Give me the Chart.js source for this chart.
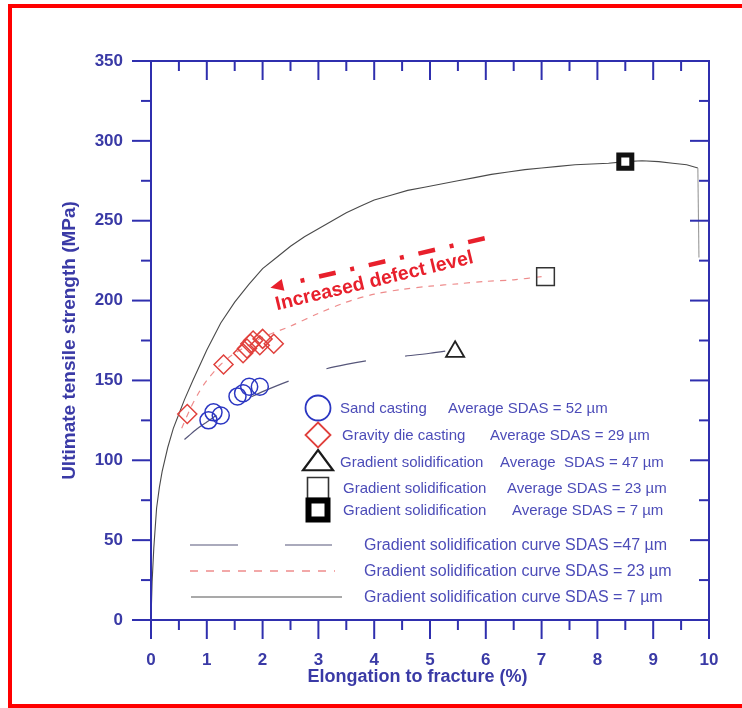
<!DOCTYPE html>
<html>
<head>
<meta charset="utf-8">
<title>UTS vs elongation</title>
<script src="https://cdn.jsdelivr.net/npm/chart.js@4.4.1/dist/chart.umd.min.js"></script>
<style>
  html, body { margin: 0; padding: 0; background: #fff; overflow: hidden; }
  #frame { position: absolute; left: 8px; top: 4px; width: 800px; height: 696px; border: 4px solid #ff0000; }
  #main-chart { position: absolute; left: 0; top: 0; }
</style>
</head>
<body>
<div id="frame"></div>
<canvas id="main-chart" width="742" height="708"></canvas>
<script>
// ── Data ─────────────────────────────────────────────────────
const X_TICKS = [0, 1, 2, 3, 4, 5, 6, 7, 8, 9, 10];
const X_MINOR = [0.5, 1.5, 2.5, 3.5, 4.5, 5.5, 6.5, 7.5, 8.5, 9.5];
const Y_TICKS = [0, 50, 100, 150, 200, 250, 300, 350];
const Y_MINOR = [25, 75, 125, 175, 225, 275, 325];

// gradient solidification curve, SDAS = 7 µm
const CURVE_7_X = [0, 0.02, 0.05, 0.1, 0.15, 0.2, 0.3, 0.4, 0.5, 0.6, 0.75, 1.0, 1.25, 1.5, 1.75, 2.0, 2.25, 2.5, 2.75, 3.0, 3.25, 3.5, 3.75, 4.0, 4.3, 4.6, 4.9, 5.2, 5.5, 5.8, 6.1, 6.4, 6.7, 7.0, 7.3, 7.6, 7.9, 8.2, 8.5, 8.8, 9.1, 9.35, 9.6, 9.8, 9.82];
const CURVE_7_Y = [0, 24, 45, 70, 83, 93, 108, 120, 129, 138, 150, 169, 186, 199, 210, 220, 227, 234, 240, 245, 250, 255, 259, 263, 266, 269, 271, 273, 275, 277, 279, 280.5, 282, 283, 284, 285, 285.5, 286, 287, 287.5, 287, 286, 285, 283, 227];

// gradient solidification curve, SDAS = 23 µm
const CURVE_23_X = [0.55, 0.7, 0.85, 1.0, 1.25, 1.5, 1.75, 2.0, 2.5, 3.0, 3.5, 4.0, 4.5, 5.0, 5.5, 6.0, 6.5, 7.0];
const CURVE_23_Y = [120, 132, 142, 150, 160, 167, 172, 177, 184, 192, 199, 204, 207, 209, 210.5, 212, 213, 215];

// gradient solidification curve, SDAS = 47 µm
const CURVE_47_X = [0.6, 0.8, 1.0, 1.25, 1.5, 1.75, 2.0, 2.5, 3.0, 3.5, 4.0, 4.5, 5.0, 5.4];
const CURVE_47_Y = [113, 119, 124, 130, 135, 139, 143, 150, 156, 160, 163, 165, 167, 169];

// individual test results
const SAND_X = [1.03, 1.12, 1.25, 1.55, 1.65, 1.76, 1.95];
const SAND_Y = [125, 130, 128, 140, 142, 146, 146];
const GRAVITY_X = [0.65, 1.3, 1.65, 1.72, 1.78, 1.83, 1.95, 2.0, 2.2];
const GRAVITY_Y = [129, 160, 167, 170, 173, 175, 172, 176, 173];
const GRAD47_X = [5.45];
const GRAD47_Y = [168];
const GRAD23_X = [7.07];
const GRAD23_Y = [215];
const GRAD7_X = [8.5];
const GRAD7_Y = [287];

// annotation arrow (tip, tail) and label anchor, in data units
const ARROW_X = [2.14, 5.98];
const ARROW_Y = [208, 239];
const ARROW_TEXT_X = 2.26;
const ARROW_TEXT_Y = 194;

const BLUE = '#2f2fae';
const LABEL_BLUE = '#3a3aa6';
const TEXT_BLUE = '#4c4cb8';
const FONT = "'Liberation Sans', Arial, sans-serif";

const pts = (xs, ys) => xs.map((x, i) => ({ x, y: ys[i] }));

// ── Small marker helper for the legend ───────────────────────
function marker(ctx, style, x, y, r, lw, color, fill) {
  ctx.save();
  ctx.beginPath();
  if (style === 'circle') {
    ctx.arc(x, y, r, 0, Math.PI * 2);
  } else if (style === 'diamond') {
    ctx.moveTo(x, y - r); ctx.lineTo(x + r, y); ctx.lineTo(x, y + r); ctx.lineTo(x - r, y); ctx.closePath();
  } else if (style === 'triangle') {
    ctx.moveTo(x, y - r * 0.8); ctx.lineTo(x + r, y + r * 0.55); ctx.lineTo(x - r, y + r * 0.55); ctx.closePath();
  } else {
    ctx.rect(x - r, y - r, 2 * r, 2 * r);
  }
  if (fill) { ctx.fillStyle = fill; ctx.fill(); }
  ctx.lineWidth = lw;
  ctx.strokeStyle = color;
  ctx.stroke();
  ctx.restore();
}

// ── Frame, inward/outward ticks, legend, annotation ──────────
const decorPlugin = {
  id: 'decor',
  afterDatasetsDraw(chart) {
    const { ctx, chartArea: a, scales: { x, y } } = chart;
    ctx.save();

    // annotation arrow
    const tx = x.getPixelForValue(ARROW_X[0]), ty = y.getPixelForValue(ARROW_Y[0]);
    const ex = x.getPixelForValue(ARROW_X[1]), ey = y.getPixelForValue(ARROW_Y[1]);
    const ang = Math.atan2(ty - ey, tx - ex);
    const headL = 13, headW = 6;
    const bx = tx - Math.cos(ang) * headL, by = ty - Math.sin(ang) * headL;
    ctx.strokeStyle = '#e8202c';
    ctx.fillStyle = '#e8202c';
    ctx.lineWidth = 4.5;
    ctx.setLineDash([17, 15, 4, 15]);
    ctx.beginPath();
    ctx.moveTo(ex, ey);
    ctx.lineTo(bx - Math.cos(ang) * 4, by - Math.sin(ang) * 4);
    ctx.stroke();
    ctx.setLineDash([]);
    ctx.beginPath();
    ctx.moveTo(tx, ty);
    ctx.lineTo(bx + Math.sin(ang) * headW, by - Math.cos(ang) * headW);
    ctx.lineTo(bx - Math.sin(ang) * headW, by + Math.cos(ang) * headW);
    ctx.closePath();
    ctx.fill();

    ctx.save();
    ctx.translate(x.getPixelForValue(ARROW_TEXT_X), y.getPixelForValue(ARROW_TEXT_Y));
    ctx.rotate(-13.5 * Math.PI / 180);
    ctx.font = `bold 19.5px ${FONT}`;
    ctx.textAlign = 'left';
    ctx.textBaseline = 'alphabetic';
    ctx.fillText('Increased defect level', 0, 0);
    ctx.restore();

    // legend
    ctx.font = `15px ${FONT}`;
    ctx.textBaseline = 'middle';
    const rows = [
      { y: 408, sym: 'circle', r: 12.5, lw: 1.8, c: '#2b36c2', a: 'Sand casting', ax: 340, b: 'Average SDAS = 52 µm', bx: 448 },
      { y: 435, sym: 'diamond', r: 12.5, lw: 1.8, c: '#e0403c', a: 'Gravity die casting', ax: 342, b: 'Average SDAS = 29 µm', bx: 490 },
      { y: 462, sym: 'triangle', r: 15, lw: 2.2, c: '#1a1a1a', a: 'Gradient solidification', ax: 340, b: 'Average  SDAS = 47 µm', bx: 500 },
      { y: 488, sym: 'square', r: 10.5, lw: 1.6, c: '#333', a: 'Gradient solidification', ax: 343, b: 'Average SDAS = 23 µm', bx: 507 },
      { y: 510, sym: 'square', r: 9.5, lw: 6, c: '#000', fill: '#fff', a: 'Gradient solidification', ax: 343, b: 'Average SDAS = 7 µm', bx: 512 },
    ];
    rows.forEach(r => {
      marker(ctx, r.sym, 318, r.y, r.r, r.lw, r.c, r.fill);
      ctx.fillStyle = TEXT_BLUE;
      ctx.fillText(r.a, r.ax, r.y + 1);
      ctx.fillText(r.b, r.bx, r.y + 1);
    });
    ctx.font = `16px ${FONT}`;
    const lines = [
      { y: 545, color: '#56567a', dash: [48, 47], x0: 190, x1: 332, lw: 1.2, t: 'Gradient solidification curve SDAS =47 µm' },
      { y: 571, color: '#ee8c8c', dash: [8, 8], x0: 190, x1: 335, lw: 1.3, t: 'Gradient solidification curve SDAS = 23 µm' },
      { y: 597, color: '#555', dash: [], x0: 191, x1: 342, lw: 1.2, t: 'Gradient solidification curve SDAS = 7 µm' },
    ];
    lines.forEach(l => {
      ctx.strokeStyle = l.color;
      ctx.lineWidth = l.lw;
      ctx.setLineDash(l.dash);
      ctx.beginPath();
      ctx.moveTo(l.x0, l.y); ctx.lineTo(l.x1, l.y);
      ctx.stroke();
      ctx.setLineDash([]);
      ctx.fillStyle = TEXT_BLUE;
      ctx.fillText(l.t, 364, l.y + 1);
    });

    // axes box + ticks
    ctx.strokeStyle = BLUE;
    ctx.lineWidth = 2;
    ctx.strokeRect(a.left, a.top, a.right - a.left, a.bottom - a.top);
    const tick = (x0, y0, x1, y1) => { ctx.beginPath(); ctx.moveTo(x0, y0); ctx.lineTo(x1, y1); ctx.stroke(); };
    const MAJ = 19, MIN = 10;
    X_TICKS.forEach(v => { const p = x.getPixelForValue(v); tick(p, a.bottom, p, a.bottom + MAJ); tick(p, a.top, p, a.top + MAJ); });
    X_MINOR.forEach(v => { const p = x.getPixelForValue(v); tick(p, a.bottom, p, a.bottom + MIN); tick(p, a.top, p, a.top + MIN); });
    Y_TICKS.forEach(v => { const p = y.getPixelForValue(v); tick(a.left, p, a.left - MAJ, p); tick(a.right, p, a.right - MAJ, p); });
    Y_MINOR.forEach(v => { const p = y.getPixelForValue(v); tick(a.left, p, a.left - MIN, p); tick(a.right, p, a.right - MIN, p); });
    ctx.restore();
  }
};

const lastIdx = CURVE_7_X.length - 1;

const ctx = document.getElementById('main-chart');
new Chart(ctx.getContext('2d'), {
  type: 'scatter',
  data: {
    datasets: [
      { label: 'Gradient SDAS 7', data: pts(GRAD7_X, GRAD7_Y), pointStyle: 'rect', pointRadius: 9.2, borderWidth: 5, borderColor: '#111', backgroundColor: '#fff' },
      { label: 'Gradient SDAS 23', data: pts(GRAD23_X, GRAD23_Y), pointStyle: 'rect', pointRadius: 12.5, borderWidth: 1.5, borderColor: '#333', backgroundColor: 'rgba(255,255,255,0)' },
      { label: 'Gradient SDAS 47', data: pts(GRAD47_X, GRAD47_Y), pointStyle: 'triangle', pointRadius: 10.5, borderWidth: 1.8, borderColor: '#222', backgroundColor: 'rgba(255,255,255,0)' },
      { label: 'Gravity die casting', data: pts(GRAVITY_X, GRAVITY_Y), pointStyle: 'rectRot', pointRadius: 9.5, borderWidth: 1.5, borderColor: '#e0403c', backgroundColor: 'rgba(255,255,255,0)' },
      { label: 'Sand casting', data: pts(SAND_X, SAND_Y), pointStyle: 'circle', pointRadius: 8.5, borderWidth: 1.5, borderColor: '#2b36c2', backgroundColor: 'rgba(255,255,255,0)' },
      { label: 'Curve SDAS 7', data: pts(CURVE_7_X, CURVE_7_Y), showLine: true, pointRadius: 0, borderWidth: 1.1, borderColor: '#4a4a4a', tension: 0,
        segment: { borderColor: c => (c.p1DataIndex === lastIdx ? '#9a9a9a' : undefined) } },
      { label: 'Curve SDAS 23', data: pts(CURVE_23_X, CURVE_23_Y), showLine: true, pointRadius: 0, borderWidth: 1.2, borderColor: '#ee8c8c', borderDash: [6, 6], tension: 0.3 },
      { label: 'Curve SDAS 47', data: pts(CURVE_47_X, CURVE_47_Y), showLine: true, pointRadius: 0, borderWidth: 1.2, borderColor: '#56567a', borderDash: [40, 40], tension: 0.3 },
    ]
  },
  options: {
    responsive: false,
    animation: false,
    layout: { padding: { top: 61, right: 33, left: 0, bottom: 0 } },
    plugins: { legend: { display: false }, tooltip: { enabled: false } },
    scales: {
      x: {
        type: 'linear', position: 'bottom', min: 0, max: 10,
        afterFit: s => { s.height = 88; },
        afterBuildTicks: s => { s.ticks = X_TICKS.map(v => ({ value: v })); },
        grid: { display: false, drawTicks: true, tickLength: 30 },
        border: { display: false },
        ticks: { color: LABEL_BLUE, font: { family: FONT, size: 17, weight: 'bold' }, padding: 0, maxRotation: 0, autoSkip: false },
        title: { display: true, text: 'Elongation to fracture (%)     ', color: LABEL_BLUE, font: { family: FONT, size: 18, weight: 'bold' }, padding: { top: 0, bottom: 20 } }
      },
      y: {
        type: 'linear', position: 'left', min: 0, max: 350,
        afterFit: s => { s.width = 151; },
        afterBuildTicks: s => { s.ticks = Y_TICKS.map(v => ({ value: v })); },
        grid: { display: false, drawTicks: false },
        border: { display: false },
        ticks: { color: LABEL_BLUE, font: { family: FONT, size: 17, weight: 'bold' }, padding: 28, autoSkip: false },
        title: { display: true, text: 'Ultimate tensile strength (MPa)', color: LABEL_BLUE, font: { family: FONT, size: 19, weight: 'bold' }, padding: { top: 58, bottom: 0 } }
      }
    }
  },
  plugins: [decorPlugin]
});
</script>
</body>
</html>
